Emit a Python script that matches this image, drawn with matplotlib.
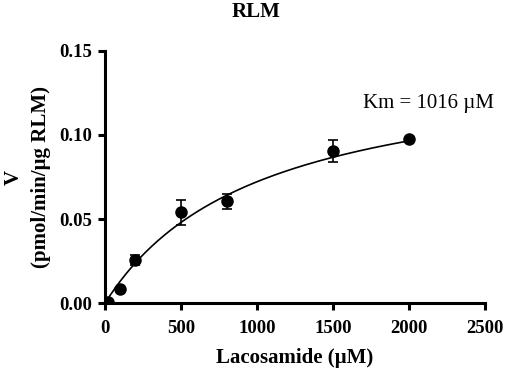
import matplotlib
matplotlib.use("Agg")
import matplotlib.pyplot as plt
import numpy as np

conc = [20, 100, 200, 500, 800, 1500, 2000]
v = [0.0007, 0.0085, 0.0255, 0.054, 0.0605, 0.0905, 0.0975]
err = [0.0, 0.0, 0.003, 0.0075, 0.0045, 0.0065, 0.0]
Km = 1016
Vmax = 0.1455

plt.rcParams['font.family'] = ['Liberation Serif', 'DejaVu Serif']
fig = plt.figure(figsize=(5.05, 3.77), dpi=100)
ax = fig.add_axes([0.208, 0.196, 0.752, 0.669])

xs = np.linspace(0, 2000, 300)
ax.plot(xs, Vmax * xs / (Km + xs), color='black', lw=1.2)
ax.errorbar(conc, v, yerr=err, fmt='o', color='black', ms=8,
            capsize=3.5, elinewidth=1.2, capthick=1.2)

ax.set_xlim(0, 2500)
ax.set_ylim(0, 0.15)
ax.set_xticks([0, 500, 1000, 1500, 2000, 2500])
ax.set_yticks([0.00, 0.05, 0.10, 0.15])
ax.set_yticklabels(['0.00', '0.05', '0.10', '0.15'])
for s in ['top', 'right']:
    ax.spines[s].set_visible(False)
for s in ['left', 'bottom']:
    ax.spines[s].set_linewidth(2.2)
ax.tick_params(width=2.2, length=5, labelsize=13.5)
ax.tick_params(axis='x', pad=7)
ax.tick_params(axis='y', pad=4)
for lab in ax.get_xticklabels() + ax.get_yticklabels():
    lab.set_fontweight('bold')

ax.set_xlabel('Lacosamide (µM)', fontsize=15, fontweight='bold', labelpad=8)
ax.set_ylabel('V\n(pmol/min/µg RLM)', fontsize=15, fontweight='bold', labelpad=6,
              linespacing=1.5)
fig.text(0.507, 0.968, 'RLM', fontsize=15, fontweight='bold', ha='center', va='center')
ax.text(1697, 0.119, 'Km = 1016 µM', fontsize=15, ha='left', va='center')

fig.savefig('out.png', dpi=100)
